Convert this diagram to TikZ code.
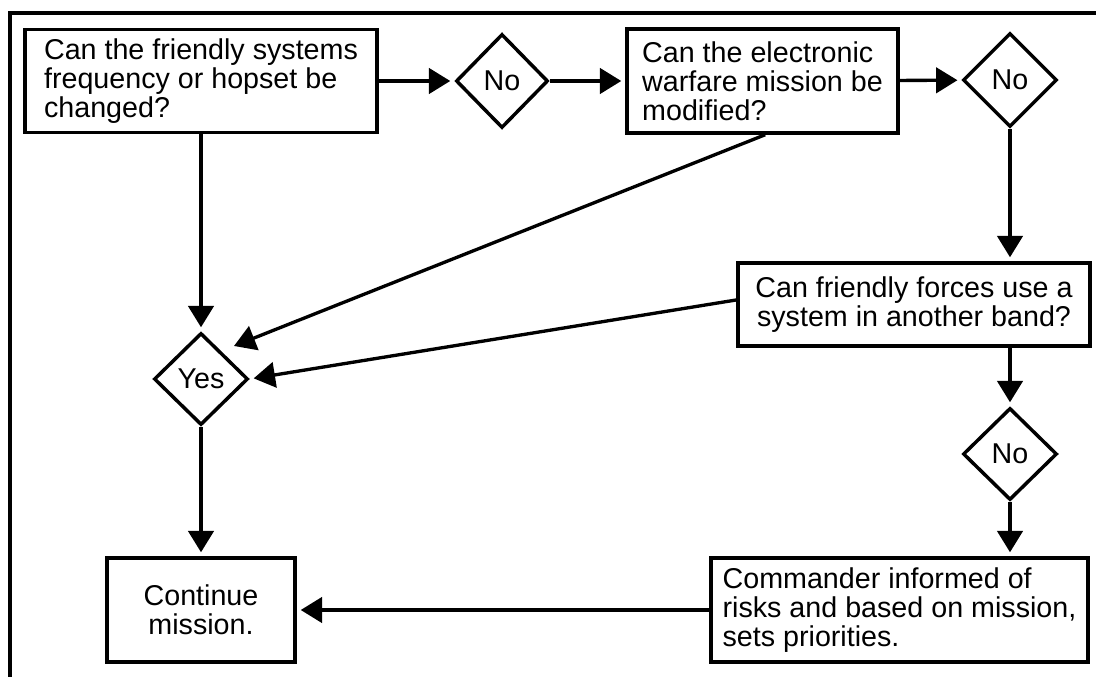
\documentclass[tikz,border=0pt]{standalone}
\usepackage{fontspec}
\setmainfont{Liberation Sans}
\usetikzlibrary{shapes.geometric,arrows.meta}
\begin{document}
\begin{tikzpicture}[x=0.75pt,y=-0.75pt,
  font=\fontsize{21.5pt}{21.75pt}\selectfont,
  box/.style={draw,line width=2.6pt,rectangle,inner sep=0pt},
  dia/.style={draw,line width=2.6pt,diamond,inner sep=0pt},
  arr/.style={line width=2.5pt,-{Triangle[length=16pt,width=19pt]},shorten >=3pt}]
\useasboundingbox (0,0) rectangle (1096,677);
\draw[line width=2.6pt] (10,690) -- (10,13) -- (1110,13);
\node[box,align=left,minimum width=264pt,minimum height=77.25pt] (b1) at (201,81)
  {Can the friendly systems\\frequency or hopset be\\changed?};
\node[dia,minimum width=69pt,minimum height=70.5pt] (n1) at (502,81) {No};
\node[box,align=left,minimum width=203.25pt,minimum height=78pt] (b2) at (762.5,81)
  {Can the electronic\\warfare mission be\\modified?};
\node[dia,minimum width=70.5pt,minimum height=70.5pt] (n2) at (1010,80) {No};
\node[box,align=center,minimum width=264pt,minimum height=62.25pt] (b3) at (914,304.5)
  {Can friendly forces use a\\system in another band?};
\node[dia,minimum width=70.5pt,minimum height=69pt] (n3) at (1010,454) {No};
\node[box,align=left,minimum width=282.75pt,minimum height=78pt] (b4) at (899.5,610)
  {Commander informed of\\risks and based on mission,\\sets priorities.};
\node[box,align=center,minimum width=141pt,minimum height=78pt] (b5) at (201,610)
  {Continue\\mission.};
\node[dia,minimum width=70.5pt,minimum height=69pt] (yes) at (201,379) {Yes};
\coordinate (t1) at (234,346);
\draw[arr] (b1) -- (n1);
\draw[arr] (n1) -- (b2);
\draw[arr] (b2) -- (n2);
\draw[arr] (n2.south) -- (n2.south |- b3.north);
\draw[arr] (n3 |- b3.south) -- (n3.north);
\draw[arr] (n3.south) -- (n3.south |- b4.north);
\draw[arr] (b4.west) -- (b5.east);
\draw[arr] (b1.south) -- (yes.north);
\draw[arr] (yes.south) -- (b5.north);
\draw[arr,shorten >=0pt] ([xshift=2pt]b2.south) -- (t1);
\draw[arr] ([yshift=3.4pt]b3.west) -- (yes.east);
\end{tikzpicture}
\end{document}
